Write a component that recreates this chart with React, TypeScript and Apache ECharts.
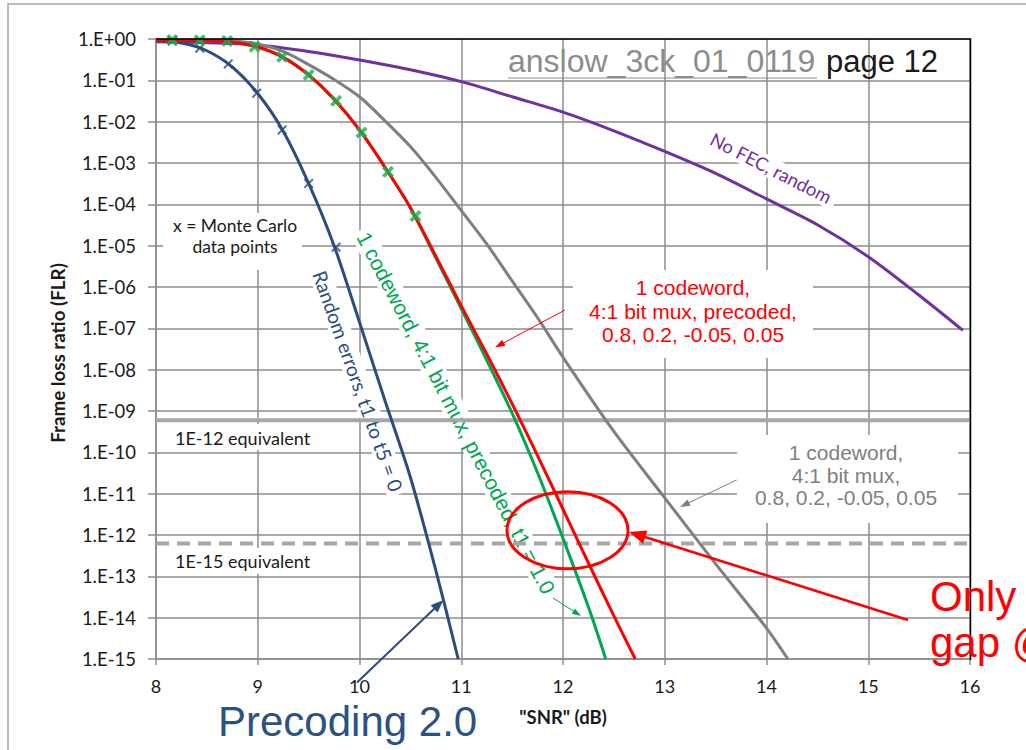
import { useEffect, useRef } from "react";
import * as echarts from "echarts";

// Analytic curves: SNR (dB) and frame loss ratio
const snrPrecoded = [8, 8.25, 8.5, 8.75, 9, 9.25, 9.5, 9.75, 10, 10.25, 10.5, 10.75, 11, 11.25, 11.5, 11.75, 12, 12.25, 12.5, 12.71];
const flrPrecoded = [0.92, 0.92, 0.9, 0.85, 0.64, 0.36, 0.135, 0.035, 6.3e-3, 7.9e-4, 8.3e-5, 5.6e-6, 3.5e-7, 2.4e-8, 1.5e-9, 8.3e-11, 4.2e-12, 2.1e-13, 1.1e-14, 1.0e-15];

const snrPrecodedT1 = [8, 8.25, 8.5, 8.75, 9, 9.25, 9.5, 9.75, 10, 10.25, 10.5, 10.75, 11, 11.25, 11.5, 11.75, 12, 12.25, 12.42];
const flrPrecodedT1 = [0.92, 0.92, 0.9, 0.85, 0.64, 0.36, 0.135, 0.035, 6.3e-3, 7.9e-4, 8.3e-5, 5.0e-6, 3.0e-7, 1.7e-8, 8.9e-10, 3.2e-11, 8.3e-13, 1.8e-14, 1.0e-15];

const snrRandom = [8, 8.25, 8.5, 8.75, 9, 9.25, 9.5, 9.75, 10, 10.25, 10.5, 10.75, 10.97];
const flrRandom = [0.89, 0.8, 0.52, 0.21, 0.048, 5.9e-3, 3.2e-4, 1.0e-5, 1.4e-7, 1.8e-9, 2.5e-11, 1.4e-13, 1.0e-15];

const snrMux = [8, 8.5, 8.75, 9, 9.25, 9.5, 9.75, 10, 10.25, 10.5, 10.75, 11, 11.25, 11.5, 11.75, 12, 12.5, 13, 13.5, 14, 14.21];
const flrMux = [0.93, 0.93, 0.89, 0.76, 0.5, 0.24, 0.105, 0.04, 0.0105, 2.5e-3, 4.5e-4, 7.1e-5, 1.1e-5, 1.4e-6, 1.8e-7, 2.0e-8, 3.2e-10, 7.9e-12, 2.0e-13, 5.6e-15, 1.0e-15];

const snrNoFec = [8, 8.5, 9, 9.5, 10, 10.5, 11, 11.5, 12, 12.5, 13, 13.5, 14, 14.5, 15, 15.5, 15.93];
const flrNoFec = [0.86, 0.81, 0.72, 0.5, 0.31, 0.18, 0.093, 0.04, 0.017, 6.0e-3, 1.9e-3, 5.6e-4, 1.35e-4, 3.2e-5, 5.4e-6, 6.3e-7, 8.9e-8];

// Monte Carlo data points
const mcSnrPrecoded = [8.16, 8.43, 8.7, 8.97, 9.24, 9.5, 9.77, 10.02, 10.28, 10.55];
const mcFlrPrecoded = [0.95, 0.93, 0.9, 0.65, 0.37, 0.135, 0.032, 5.5e-3, 6.1e-4, 5.2e-5];
const mcSnrRandom = [8.16, 8.43, 8.71, 8.99, 9.24, 9.5, 9.77];
const mcFlrRandom = [0.89, 0.6, 0.25, 0.049, 6.3e-3, 3.2e-4, 9.2e-6];

// Reference levels
const snrSpan = [8, 16];
const equiv12 = 6.0e-10;
const equiv15 = 6.2e-13;

const NAVY = "#2B4C7E";
const GREEN = "#00A651";
const RED = "#FF0000";
const GRAY = "#7F7F7F";
const PURPLE = "#7030A0";
const GRID = "#8C8C8C";
const CAL = "Lato, 'Open Sans', sans-serif";
const ARIAL = "'Liberation Sans', Arial, sans-serif";

const pairs = (xs: number[], ys: number[]) => xs.map((x, i) => [x, ys[i]]);

const fmtExp = (v: number) => {
  const e = Math.round(Math.log10(v));
  const a = Math.abs(e);
  return "1.E" + (e < 0 ? "-" : "+") + (a < 10 ? "0" : "") + a;
};

const X_THICK = "path://M0,2.2L2.2,0L5,2.8L7.8,0L10,2.2L7.2,5L10,7.8L7.8,10L5,7.2L2.2,10L0,7.8L2.8,5Z";
const X_THIN = "path://M0,1.4L1.4,0L5,3.6L8.6,0L10,1.4L6.4,5L10,8.6L8.6,10L5,6.4L1.4,10L0,8.6L3.6,5Z";

function arrow(x1: number, y1: number, x2: number, y2: number, color: string, width: number, head: number, headW: number) {
  const dx = x2 - x1;
  const dy = y2 - y1;
  const len = Math.hypot(dx, dy);
  const ux = dx / len;
  const uy = dy / len;
  const bx = x2 - ux * head;
  const by = y2 - uy * head;
  const px = (-uy * headW) / 2;
  const py = (ux * headW) / 2;
  return [
    { type: "line", z: 20, shape: { x1, y1, x2: bx + ux * 2, y2: by + uy * 2 }, style: { stroke: color, lineWidth: width } },
    { type: "polygon", z: 20, shape: { points: [[x2, y2], [bx + px, by + py], [bx - px, by - py]] }, style: { fill: color } },
  ];
}

function whiteBox(x: number, y: number, w: number, h: number) {
  return { type: "rect", z: 1, shape: { x, y, width: w, height: h }, style: { fill: "#fff" } };
}

function label(text: string, x: number, y: number, o: any = {}) {
  return {
    type: "text",
    z: o.z ?? 21,
    x,
    y,
    rotation: o.rotation ?? 0,
    style: {
      text,
      fill: o.fill ?? "#1a1a1a",
      fontSize: o.fontSize ?? 18,
      fontFamily: o.fontFamily ?? CAL,
      fontWeight: o.fontWeight ?? "normal",
      align: o.align ?? "left",
      verticalAlign: "middle",
      lineHeight: o.lineHeight,
      backgroundColor: o.bg,
      padding: o.padding,
    },
  };
}

function buildOption(): any {
  const curve = (name: string, xs: number[], ys: number[], color: string, z = 3) => ({
    name,
    type: "line",
    data: pairs(xs, ys),
    showSymbol: false,
    smooth: 0.3,
    z,
    lineStyle: { color, width: 3 },
    itemStyle: { color },
  });

  return {
    animation: false,
    backgroundColor: "#fff",
    grid: { left: 156, right: 56, top: 39, bottom: 91, containLabel: false },
    xAxis: {
      type: "value",
      min: 8,
      max: 16,
      interval: 1,
      axisLine: { lineStyle: { color: GRID, width: 1.5 } },
      axisTick: { show: true, length: 6, lineStyle: { color: GRID, width: 1.5 } },
      axisLabel: { color: "#1a1a1a", fontSize: 18, fontFamily: CAL, margin: 18 },
      splitLine: { show: true, lineStyle: { color: GRID, width: 1.5 } },
    },
    yAxis: {
      type: "log",
      logBase: 10,
      min: 1e-15,
      max: 1,
      interval: 1,
      splitNumber: 15,
      axisLine: { show: true, lineStyle: { color: GRID, width: 1.5 } },
      axisTick: { show: true, length: 8, lineStyle: { color: GRID, width: 1.5 } },
      axisLabel: { color: "#1a1a1a", fontSize: 18.5, fontFamily: CAL, margin: 20, formatter: fmtExp },
      splitLine: { show: true, lineStyle: { color: GRID, width: 1.5 } },
    },
    series: [
      {
        name: "1E-12 equivalent",
        type: "line",
        data: pairs(snrSpan, [equiv12, equiv12]),
        showSymbol: false,
        z: 2,
        lineStyle: { color: "#A6A6A6", width: 4 },
      },
      {
        name: "1E-15 equivalent",
        type: "line",
        data: pairs(snrSpan, [equiv15, equiv15]),
        showSymbol: false,
        z: 2,
        lineStyle: { color: "#A6A6A6", width: 4, type: [13, 8] },
      },
      curve("No FEC, random", snrNoFec, flrNoFec, PURPLE),
      curve("1 codeword, 4:1 bit mux", snrMux, flrMux, GRAY),
      curve("Random errors, t1 to t5 = 0", snrRandom, flrRandom, NAVY),
      curve("1 codeword, 4:1 bit mux, precoded, t1 = 1.0", snrPrecodedT1, flrPrecodedT1, GREEN),
      curve("1 codeword, 4:1 bit mux, precoded, 0.8, 0.2, -0.05, 0.05", snrPrecoded, flrPrecoded, RED, 4),
      {
        name: "Monte Carlo, random",
        type: "scatter",
        data: pairs(mcSnrRandom, mcFlrRandom),
        symbol: X_THIN,
        symbolSize: 10,
        z: 5,
        itemStyle: { color: NAVY },
      },
      {
        name: "Monte Carlo, precoded",
        type: "scatter",
        data: pairs(mcSnrPrecoded, mcFlrPrecoded),
        symbol: X_THICK,
        symbolSize: 12,
        z: 5,
        itemStyle: { color: "#1DAA4E" },
      },
    ],
    graphic: [
      // slide frame
      { type: "polyline", z: 20, shape: { points: [[8, 750], [8, 4], [1026, 4]] }, style: { stroke: "#A6A6A6", lineWidth: 1.5, fill: null } },
      // plot border (top and right)
      { type: "polyline", z: 20, shape: { points: [[156, 39], [970.5, 39], [970.5, 660]] }, style: { stroke: "#000", lineWidth: 1.5, fill: null } },

      // white boxes behind annotations
      whiteBox(163, 213, 139, 57),
      whiteBox(170, 424, 152, 26),
      whiteBox(170, 548, 152, 26),
      whiteBox(573, 270, 240, 88),
      whiteBox(737, 435, 221, 88),

      // title
      label("anslow_3ck_01_0119", 508, 61, { fill: "#8C8C8C", fontSize: 32, fontFamily: ARIAL }),
      { type: "line", z: 21, shape: { x1: 508, y1: 78, x2: 817, y2: 78 }, style: { stroke: "#8C8C8C", lineWidth: 1.2 } },
      label("page 12", 826, 61, { fill: "#1a1a1a", fontSize: 31, fontFamily: ARIAL }),

      // axis names
      label("Frame loss ratio (FLR)", 57, 353, { fontWeight: "bold", fontSize: 18.8, align: "center", rotation: Math.PI / 2 }),
      label('"SNR" (dB)', 563, 717, { fontWeight: "bold", fontSize: 18.5, align: "center" }),

      // annotations on the plot
      label("x = Monte Carlo\ndata points", 235, 236, { align: "center", fontSize: 17.5, lineHeight: 21 }),
      label("1E-12 equivalent", 175, 438, { fontSize: 18 }),
      label("1E-15 equivalent", 175, 561, { fontSize: 18 }),
      label("No FEC, random", 771, 168, { fill: PURPLE, fontSize: 18.5, align: "center", rotation: -0.471, bg: "#fff", padding: [1, 6], z: 1 }),
      label("1 codeword, 4:1 bit mux, precoded, t1 = 1.0", 456, 413, { fill: GREEN, fontSize: 21, fontFamily: ARIAL, align: "center", rotation: -1.09, bg: "#fff", padding: [1, 4], z: 1 }),
      label("Random errors, t1 to t5 = 0", 358, 381, { fill: NAVY, fontSize: 19.5, align: "center", rotation: -1.23, bg: "#fff", padding: [1, 4], z: 1 }),
      label("1 codeword,\n4:1 bit mux, precoded,\n0.8, 0.2, -0.05, 0.05", 693, 311, { fill: RED, fontSize: 21, fontFamily: ARIAL, align: "center", lineHeight: 23.4 }),
      label("1 codeword,\n4:1 bit mux,\n0.8, 0.2, -0.05, 0.05", 846, 475, { fill: GRAY, fontSize: 21, fontFamily: ARIAL, align: "center", lineHeight: 22.8 }),

      ...arrow(565, 310, 495, 347.5, RED, 1, 10, 7),
      ...arrow(736.7, 480, 680, 507, GRAY, 1, 10, 7),
      ...arrow(553, 598, 581, 616, GREEN, 1, 9, 6),

      // highlight
      { type: "ellipse", z: 20, shape: { cx: 567.5, cy: 530.3, rx: 60.5, ry: 38.5 }, style: { stroke: RED, lineWidth: 3, fill: null } },
      ...arrow(908, 620, 629, 532, RED, 2.6, 17, 14),
      label("Only", 930, 596, { fill: RED, fontSize: 42, fontFamily: ARIAL }),
      label("gap @", 930, 642, { fill: RED, fontSize: 42, fontFamily: ARIAL }),

      ...arrow(357, 682.5, 443.5, 600, NAVY, 2, 13, 10),
      label("Precoding 2.0", 218, 721, { fill: "#2B5283", fontSize: 42, fontFamily: ARIAL }),
    ],
  };
}

export default function App() {
  const ref = useRef<HTMLDivElement>(null);
  useEffect(() => {
    if (!ref.current) return;
    const chart = echarts.init(ref.current, null, { renderer: "svg" });
    chart.setOption(buildOption());
    return () => chart.dispose();
  }, []);
  return (
    <div
      ref={ref}
      style={{ position: "fixed", left: 0, top: 0, width: 1026, height: 750, background: "#fff" }}
    />
  );
}
